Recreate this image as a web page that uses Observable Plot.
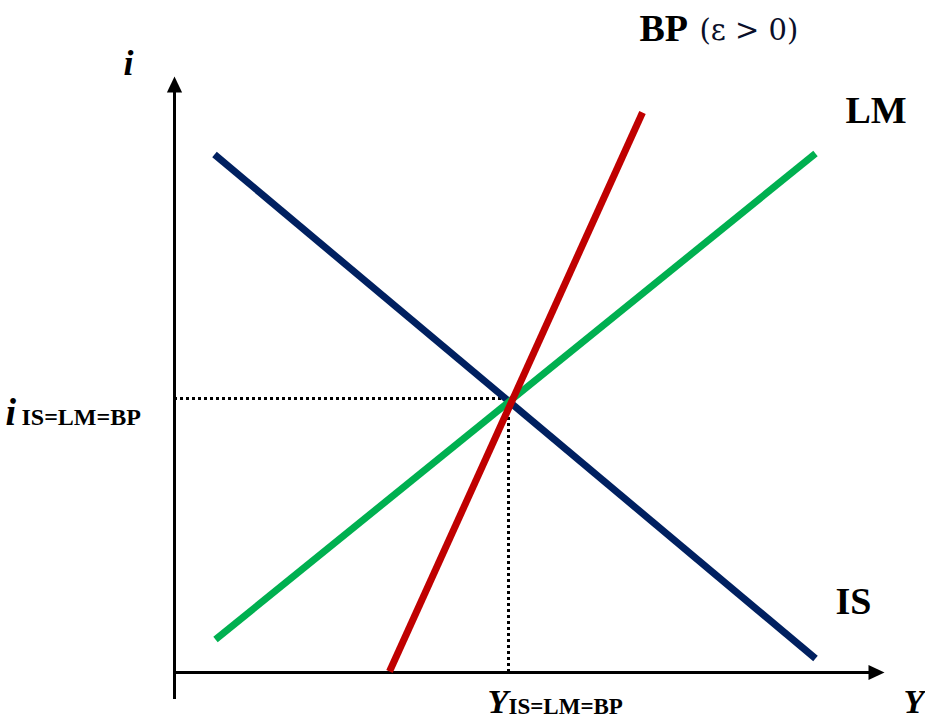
<!DOCTYPE html>
<html>
<head>
<meta charset="utf-8">
<script src="https://cdn.jsdelivr.net/npm/d3@7"></script>
<script src="https://cdn.jsdelivr.net/npm/@observablehq/plot@0.6"></script>
<style>
  html, body { margin: 0; padding: 0; background: #fff; }
  #chart { width: 925px; height: 720px; }
</style>
</head>
<body>
<div id="chart"></div>
<script>
// Curve endpoints (income Y, interest rate i)
const curveNames = ["IS", "LM", "BP"];
const curveY1 = [40, 41, 215];
const curveI1 = [518, 33, 1];
const curveY2 = [641, 641, 468];
const curveI2 = [14, 519, 560];
const curveColors = ["#002060", "#00b050", "#c00000"];

// Equilibrium point
const eqY = 334;
const eqI = 274;

// Axis extents
const axisYMax = 710;   // end of Y axis (arrow tip)
const axisIMax = 596;   // end of i axis (arrow tip)
const axisIMin = -27;   // i axis extends a bit below the origin

// Labels
const curveLabels = ["BP", "LM", "IS"];
const curveLabelY = [465, 671, 661];
const curveLabelI = [632, 550, 59];

const serif = "'Liberation Serif', 'Times New Roman', serif";

const segments = curveNames.map((name, k) => ({
  name, y1: curveY1[k], i1: curveI1[k], y2: curveY2[k], i2: curveI2[k], color: curveColors[k]
}));
const labels = curveLabels.map((t, k) => ({t, Y: curveLabelY[k], i: curveLabelI[k]}));

const arrowUp = {
  draw(ctx, size) {
    const r = Math.sqrt(size / Math.PI);
    ctx.moveTo(0, 0); ctx.lineTo(-0.95 * r, 2 * r); ctx.lineTo(0.95 * r, 2 * r); ctx.closePath();
  }
};
const arrowRight = {
  draw(ctx, size) {
    const r = Math.sqrt(size / Math.PI);
    ctx.moveTo(0, 0); ctx.lineTo(-2 * r, -0.95 * r); ctx.lineTo(-2 * r, 0.95 * r); ctx.closePath();
  }
};

const chart = Plot.plot({
  width: 925,
  height: 720,
  marginLeft: 174,
  marginRight: 0,
  marginTop: 0,
  marginBottom: 48,
  x: {domain: [0, 751], axis: null},
  y: {domain: [0, 672], axis: null},
  style: {background: "#fff", overflow: "visible"},
  marks: [
    // dotted guides
    Plot.ruleY([eqI], {x1: 0, x2: eqY, stroke: "#000", strokeWidth: 3, strokeDasharray: "3 3"}),
    Plot.ruleX([eqY], {y1: 0, y2: eqI, stroke: "#000", strokeWidth: 3, strokeDasharray: "3 3"}),
    // axes
    Plot.ruleX([0], {y1: axisIMin, y2: axisIMax - 6, stroke: "#000", strokeWidth: 3}),
    Plot.ruleY([0], {x1: 0, x2: axisYMax - 6, stroke: "#000", strokeWidth: 3}),
    Plot.dot([{Y: 0, i: axisIMax}], {x: "Y", y: "i", symbol: arrowUp, r: 8, fill: "#000", stroke: null}),
    Plot.dot([{Y: axisYMax, i: 0}], {x: "Y", y: "i", symbol: arrowRight, r: 8, fill: "#000", stroke: null}),
    // curves
    Plot.link(segments, {x1: "y1", y1: "i1", x2: "y2", y2: "i2", stroke: "color", strokeWidth: 7, strokeLinecap: "butt"}),
    // curve labels
    Plot.text(labels, {x: "Y", y: "i", text: "t", textAnchor: "start", lineAnchor: "bottom",
      fontFamily: serif, fontWeight: "bold", fontSize: 38, fill: "#000"}),
    Plot.text(["(ε > 0)"], {x: 525, y: 633, text: d => d, textAnchor: "start", lineAnchor: "bottom",
      fontFamily: "'DejaVu Serif', serif", fontSize: 29, fill: "#0a0f2a"}),
    // axis labels
    Plot.text(["i"], {x: -46, y: 598, text: d => d, textAnchor: "middle", lineAnchor: "bottom",
      fontFamily: serif, fontWeight: "bold", fontStyle: "italic", fontSize: 36, fill: "#000"}),
    Plot.text(["Y"], {x: 729, y: -40, text: d => d, textAnchor: "start", lineAnchor: "bottom",
      fontFamily: serif, fontWeight: "bold", fontStyle: "italic", fontSize: 34, fill: "#000"}),
    // equilibrium labels
    Plot.text(["i"], {x: -169, y: 248, text: d => d, textAnchor: "start", lineAnchor: "bottom",
      fontFamily: serif, fontWeight: "bold", fontStyle: "italic", fontSize: 38, fill: "#000"}),
    Plot.text(["IS=LM=BP"], {x: -153, y: 248, text: d => d, textAnchor: "start", lineAnchor: "bottom",
      fontFamily: serif, fontWeight: "bold", fontSize: 24, fill: "#000"}),
    Plot.text(["Y"], {x: 313, y: -40, text: d => d, textAnchor: "start", lineAnchor: "bottom",
      fontFamily: serif, fontWeight: "bold", fontStyle: "italic", fontSize: 34, fill: "#000"}),
    Plot.text(["IS=LM=BP"], {x: 334, y: -41, text: d => d, textAnchor: "start", lineAnchor: "bottom",
      fontFamily: serif, fontWeight: "bold", fontSize: 23, fill: "#000"})
  ]
});
document.getElementById("chart").appendChild(chart);
</script>
</body>
</html>
